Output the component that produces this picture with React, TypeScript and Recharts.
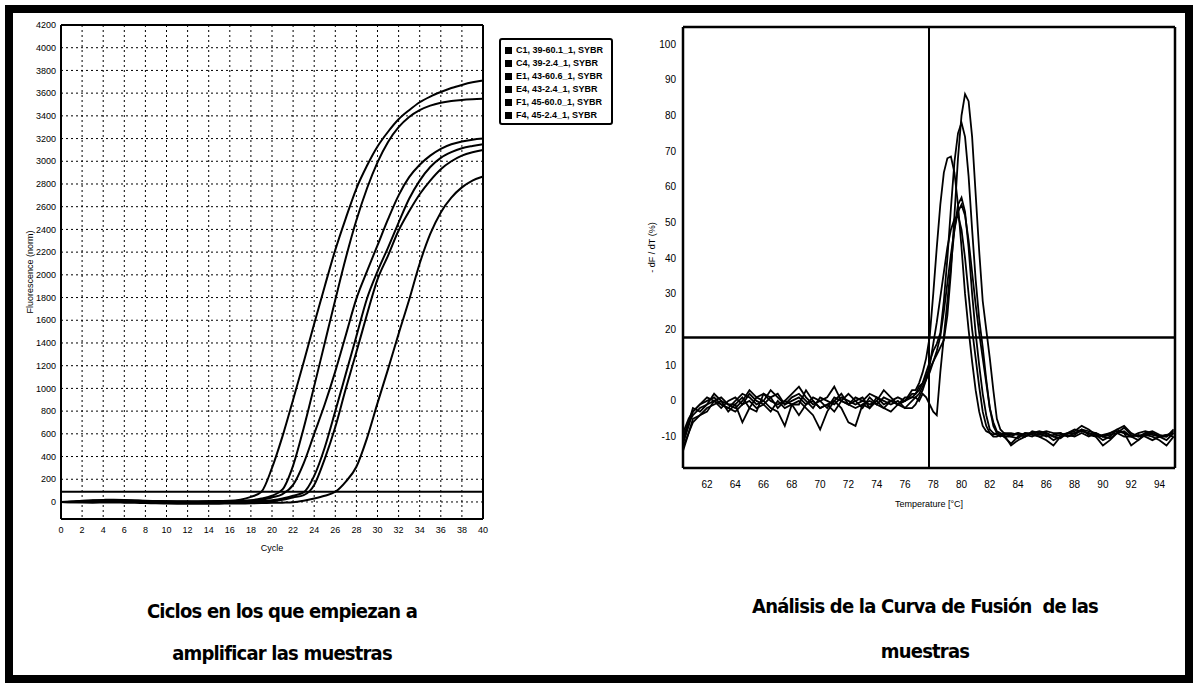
import { LineChart, Line, XAxis, YAxis, CartesianGrid, ReferenceLine, Legend } from 'recharts';

// amplification plot (left)
const cycles = [0, 1, 2, 3, 4, 5, 6, 7, 8, 9, 10, 11, 12, 13, 14, 15, 16, 17, 18, 19, 20, 21, 22, 23, 24, 25, 26, 27, 28, 29, 30, 31, 32, 33, 34, 35, 36, 37, 38, 39, 40];

const fluorC1 = [0, 4, 10, 15, 18, 20, 18, 14, 10, 8, 6, 5, 5, 5, 6, 8, 10, 20, 45, 90, 300, 580, 900, 1230, 1570, 1900, 2220, 2500, 2760, 2960, 3130, 3260, 3370, 3450, 3520, 3570, 3610, 3645, 3672, 3695, 3712];
const fluorC4 = [0, 3, 8, 12, 15, 16, 14, 12, 9, 7, 5, 4, 4, 4, 5, 6, 8, 10, 15, 30, 55, 110, 320, 650, 1020, 1400, 1780, 2150, 2480, 2760, 2990, 3170, 3300, 3390, 3450, 3490, 3515, 3530, 3540, 3546, 3550];
const fluorE1 = [0, 2, 6, 9, 11, 12, 10, 8, 6, 5, 4, 3, 3, 3, 4, 5, 6, 8, 10, 20, 40, 70, 150, 340, 600, 860, 1150, 1470, 1790, 2030, 2260, 2490, 2700, 2860, 2970, 3050, 3110, 3150, 3175, 3190, 3200];
const fluorE4 = [0, 0, 3, 5, 6, 7, 6, 5, 4, 3, 2, 2, 1, 0, 0, 1, 2, 3, 5, 8, 15, 30, 55, 85, 230, 480, 800, 1130, 1460, 1790, 2030, 2240, 2460, 2670, 2830, 2950, 3030, 3080, 3115, 3135, 3150];
const fluorF1 = [0, -2, 0, 2, 3, 4, 3, 2, 0, -2, -3, -4, -5, -5, -4, -3, -2, -2, -1, 0, 5, 20, 40, 60, 150, 380, 660, 1000, 1320, 1650, 1960, 2170, 2390, 2560, 2710, 2830, 2930, 3000, 3050, 3080, 3100];
const fluorF4 = [0, -3, -5, -6, -5, -4, -6, -8, -10, -12, -14, -15, -15, -16, -16, -15, -14, -13, -12, -10, -8, -6, -3, 10, 30, 55, 90, 180, 310, 560, 870, 1170, 1480, 1780, 2100, 2360, 2550, 2680, 2770, 2830, 2866];

const ampNames = ['C1, 39-60.1_1, SYBR', 'C4, 39-2.4_1, SYBR', 'E1, 43-60.6_1, SYBR', 'E4, 43-2.4_1, SYBR', 'F1, 45-60.0_1, SYBR', 'F4, 45-2.4_1, SYBR'];
const ampValues = [fluorC1, fluorC4, fluorE1, fluorE4, fluorF1, fluorF4];

const cycleTicks = [0, 2, 4, 6, 8, 10, 12, 14, 16, 18, 20, 22, 24, 26, 28, 30, 32, 34, 36, 38, 40];
const fluorTicks = [0, 200, 400, 600, 800, 1000, 1200, 1400, 1600, 1800, 2000, 2200, 2400, 2600, 2800, 3000, 3200, 3400, 3600, 3800, 4000, 4200];
const threshold = 90;

// melt curve (right)
const temps = [60.3, 60.7, 61, 61.5, 62, 62.5, 63, 63.5, 64, 64.5, 65, 65.5, 66, 66.5, 67, 67.5, 68, 68.5, 69, 69.5, 70, 70.5, 71, 71.5, 72, 72.5, 73, 73.5, 74, 74.5, 75, 75.5, 76, 76.5,
  76.75, 77, 77.25, 77.5, 77.75, 78, 78.25, 78.5, 78.75, 79, 79.25, 79.5, 79.75, 80, 80.25, 80.5, 80.75, 81, 81.25, 81.5, 81.75, 82, 82.25, 82.5, 82.75, 83,
  83.5, 84, 84.5, 85, 85.5, 86, 86.5, 87, 87.5, 88, 88.5, 89, 89.5, 90, 90.5, 91, 91.5, 92, 92.5, 93, 93.5, 94, 94.5, 95];

const meltC1 = [-9, -5,
  -3, -1, 0, 1, -1, -2, 0, 2, 1, -1, 0, 3, 1, -1, 1, 2, 0, -2, 1, 0, -1, 1, 0, -1, 0, 2, 1, -1, 0, 1, 0, 2,
  2, 4, 5, 7, 9, 11, 13, 15, 17, 24, 36, 52, 68, 80, 86, 84, 74, 58, 42, 28, 20, 12, 3, -5, -8, -9,
  -10, -9, -10, -9, -8.5, -9, -10, -9.5, -9, -8, -8.5, -9, -9.5, -10, -9, -8.5, -9, -10, -9, -8.5, -9, -10, -9.5, -9];
const meltC4 = [-11, -6,
  -4, -2, -1, 0, 1, -1, -2, 0, 3, 1, 2, 0, -1, 0, 2, 4, 1, -1, 0, 1, 4, 0, -1, 1, 0, -1, 0, 3, 1, -1, 0, 1,
  2, 3, 5, 8, 11, 14, 16, 19, 28, 40, 54, 67, 75, 78, 74, 63, 48, 34, 23, 15, 6, -2, -7, -9, -9.5, -10,
  -12, -10, -9, -9.5, -10, -11, -12.5, -10, -9, -8.5, -7, -8, -9.5, -11, -10, -8, -7, -9, -10, -9.5, -9, -10, -11, -9];
const meltE1 = [-14, -9,
  -5, -4, -2, -1, 0, -1, -1, -6, -2, 1, 0, -2, -3, -7, -1, 0, -2, -4, -8, -3, 0, -2, -6, -7, -1, 0, -1, -2, 0, -1, 0, 3,
  3, 5, 8, 12, 18, 30, 43, 55, 64, 68, 68.5, 64, 55, 43, 30, 20, 11, 3, -3, -7, -8.5, -9, -9.5, -9, -9.5, -9,
  -9, -9.5, -10, -8.5, -9, -10, -9.5, -9, -10, -9, -8, -9.5, -10, -12.5, -11, -9, -8.5, -10, -11, -9.5, -10, -11, -12.5, -10];
const meltE4 = [-10, -6,
  -2, -3, -1, 2, 0, -3, -1, 1, -2, -3, 2, 1, -2, 0, -1, -1, 3, 0, -2, -1, 0, 2, -1, 0, 1, -2, 1, 0, -1, 0, -2, 0,
  1, 0, 2, 1, -1, -3, -4, 8, 18, 28, 38, 48, 55, 57, 53, 43, 30, 19, 10, 2, -4, -8, -9, -9.5, -10, -9.5,
  -12.5, -11, -10, -9, -9.5, -9, -10, -10.5, -9, -9, -8.5, -9, -10, -9.5, -9, -8, -9, -12.5, -11, -9, -9.5, -10, -10, -8.5];
const meltF1 = [-13, -9,
  -6, -4, -3, 0, -1, -2, -3, -1, 0, -2, -1, -3, 0, -2, -1, -4, -1, 0, -2, -1, -3, 0, -1, -2, -1, -2, 0, -2, -3, -1, -2, -2,
  -1, 1, 3, 6, 10, 16, 22, 29, 36, 43, 48, 51, 52, 48, 40, 30, 20, 12, 4, -3, -7, -9, -10, -10, -9.5, -10,
  -10, -10.5, -9, -9, -10, -9.5, -11, -10, -9.5, -10, -9, -10, -9, -10, -10.5, -9, -10, -10, -9.5, -10, -11, -10, -9.5, -10];
const meltF4 = [-12, -7,
  -3, -1, 1, 0, -2, 0, 1, -1, 2, 0, -1, 1, 2, -1, 0, 1, -1, 1, 0, -2, 1, 0, 2, 0, -2, 1, -1, 1, 0, -1, 1, 1,
  1, 2, 4, 6, 8, 11, 14, 18, 25, 33, 41, 48, 53, 55, 52, 45, 36, 27, 19, 12, 5, -2, -6, -8.5, -9, -9.5,
  -9.5, -9, -9.5, -10, -9, -8.5, -9, -9, -10, -9.5, -8, -8.5, -9, -10, -9.5, -9, -7.5, -9.5, -10, -9, -8.5, -9.5, -10, -8];
const meltValues = [meltC1, meltC4, meltE1, meltE4, meltF1, meltF4];

const tempTicks = [62, 64, 66, 68, 70, 72, 74, 76, 78, 80, 82, 84, 86, 88, 90, 92, 94];
const derivTicks = [-10, 0, 10, 20, 30, 40, 50, 60, 70, 80, 90, 100];
const meltMarkerTemp = 77.7;
const meltThreshold = 17.8;

const keys = ['s0', 's1', 's2', 's3', 's4', 's5'];

const ampData = cycles.map((c, i) => {
  const row: Record<string, number> = { cycle: c };
  keys.forEach((k, j) => { row[k] = ampValues[j][i]; });
  return row;
});

const meltData = temps.map((t, i) => {
  const row: Record<string, number> = { temp: t };
  keys.forEach((k, j) => { row[k] = meltValues[j][i]; });
  return row;
});

const tickFont = "'Liberation Sans', Arial, sans-serif";
const captionFont = "'DejaVu Sans Condensed', 'DejaVu Sans', sans-serif";

function AmpLegend() {
  return (
    <div style={{
      width: 114, height: 87, border: '2px solid #000', borderRadius: 3, background: '#fff',
      padding: '4px 0 0 4px', boxSizing: 'border-box', fontFamily: tickFont, fontSize: 9,
      lineHeight: '13px', color: '#000', fontWeight: 600,
    }}>
      {ampNames.map((n) => (
        <div key={n} style={{ display: 'flex', alignItems: 'center', whiteSpace: 'nowrap' }}>
          <span style={{ display: 'inline-block', width: 7, height: 7, background: '#000', marginRight: 4 }} />
          {n}
        </div>
      ))}
    </div>
  );
}

const captionStyle = {
  position: 'absolute' as const, textAlign: 'center' as const, fontFamily: captionFont,
  fontStretch: 'condensed', fontWeight: 700, fontSize: 20, color: '#000', letterSpacing: -0.8,
  whiteSpace: 'pre' as const,
};

export default function App() {
  return (
    <div style={{ position: 'fixed', left: 0, top: 0, width: 1198, height: 683, background: '#fff', overflow: 'hidden' }}>
      <div style={{ position: 'absolute', left: 0, top: 0 }}>
        <LineChart width={630} height={560} data={ampData} margin={{ top: 25, right: 147, bottom: 7, left: 0 }}>
          <CartesianGrid stroke="#000" strokeDasharray="2 3" strokeWidth={1} />
          <XAxis
            dataKey="cycle" type="number" domain={[0, 40]} ticks={cycleTicks} interval={0}
            height={34} tickLine={false} axisLine={{ stroke: '#000', strokeWidth: 2 }}
            tick={{ fontSize: 9, fill: '#000', fontFamily: tickFont }}
            label={{ value: 'Cycle', position: 'insideBottom', offset: 2, fontSize: 9, fill: '#000', fontFamily: tickFont }}
          />
          <YAxis
            type="number" domain={[-150, 4200]} ticks={fluorTicks} interval={0} width={61}
            tickLine={false} tickSize={0} tickMargin={5} axisLine={{ stroke: '#000', strokeWidth: 2 }}
            tick={{ fontSize: 9, fill: '#000', fontFamily: tickFont }}
            label={{ value: 'Fluorescence (norm)', angle: -90, position: 'insideLeft', offset: 30, fontSize: 9, fill: '#000', fontFamily: tickFont, style: { textAnchor: 'middle' } }}
          />
          <ReferenceLine y={4200} stroke="#000" strokeWidth={2} />
          <ReferenceLine x={40} stroke="#000" strokeWidth={2} />
          <ReferenceLine y={threshold} stroke="#000" strokeWidth={2} />
          <Legend
            layout="vertical" align="center" verticalAlign="middle"
            wrapperStyle={{ left: 499, top: 38, width: 'auto' }}
            content={() => <AmpLegend />}
          />
          {keys.map((k, j) => (
            <Line key={k} dataKey={k} name={ampNames[j]} type="monotone" stroke="#000" strokeWidth={2}
              dot={false} isAnimationActive={false} />
          ))}
        </LineChart>
      </div>

      <div style={{ position: 'absolute', left: 600, top: 0 }}>
        <LineChart width={590} height={520} data={meltData} margin={{ top: 27, right: 15, bottom: 7, left: 0 }}>
          <XAxis
            dataKey="temp" type="number" domain={[60.3, 95.1]} ticks={tempTicks} interval={0}
            height={45} tickLine={false} tickSize={0} tickMargin={13} axisLine={{ stroke: '#000', strokeWidth: 2.5 }}
            tick={{ fontSize: 10, fill: '#000', fontFamily: tickFont }}
            label={{ value: 'Temperature [°C]', position: 'insideBottom', offset: 6, fontSize: 9, fill: '#000', fontFamily: tickFont }}
          />
          <YAxis
            type="number" domain={[-18.8, 104.8]} ticks={derivTicks} interval={0} width={83}
            tickLine={false} tickSize={0} tickMargin={7} axisLine={{ stroke: '#000', strokeWidth: 2.5 }}
            tick={{ fontSize: 10, fill: '#000', fontFamily: tickFont }}
            label={{ value: '- dF / dT (%)', angle: -90, position: 'insideLeft', offset: 52, fontSize: 9, fill: '#000', fontFamily: tickFont, style: { textAnchor: 'middle' } }}
          />
          <ReferenceLine y={104.8} stroke="#000" strokeWidth={2.5} />
          <ReferenceLine x={95.1} stroke="#000" strokeWidth={2.5} />
          <ReferenceLine x={meltMarkerTemp} stroke="#000" strokeWidth={2} />
          <ReferenceLine y={meltThreshold} stroke="#000" strokeWidth={2.5} />
          {keys.map((k, j) => (
            <Line key={k} dataKey={k} name={ampNames[j]} type="linear" stroke="#000" strokeWidth={1.8}
              dot={false} isAnimationActive={false} />
          ))}
        </LineChart>
      </div>

      <div style={{ ...captionStyle, left: 82, top: 590, width: 400, lineHeight: '42px' }}>
        <div>Ciclos en los que empiezan a</div>
        <div>amplificar las muestras</div>
      </div>
      <div style={{ ...captionStyle, left: 695, top: 584, width: 460, lineHeight: '45px' }}>
        <div>Análisis de la Curva de Fusión  de las</div>
        <div>muestras</div>
      </div>

      <div style={{ position: 'absolute', left: 5, top: 5, width: 1188, height: 678, border: '8px solid #000', boxSizing: 'border-box', pointerEvents: 'none' }} />
    </div>
  );
}
